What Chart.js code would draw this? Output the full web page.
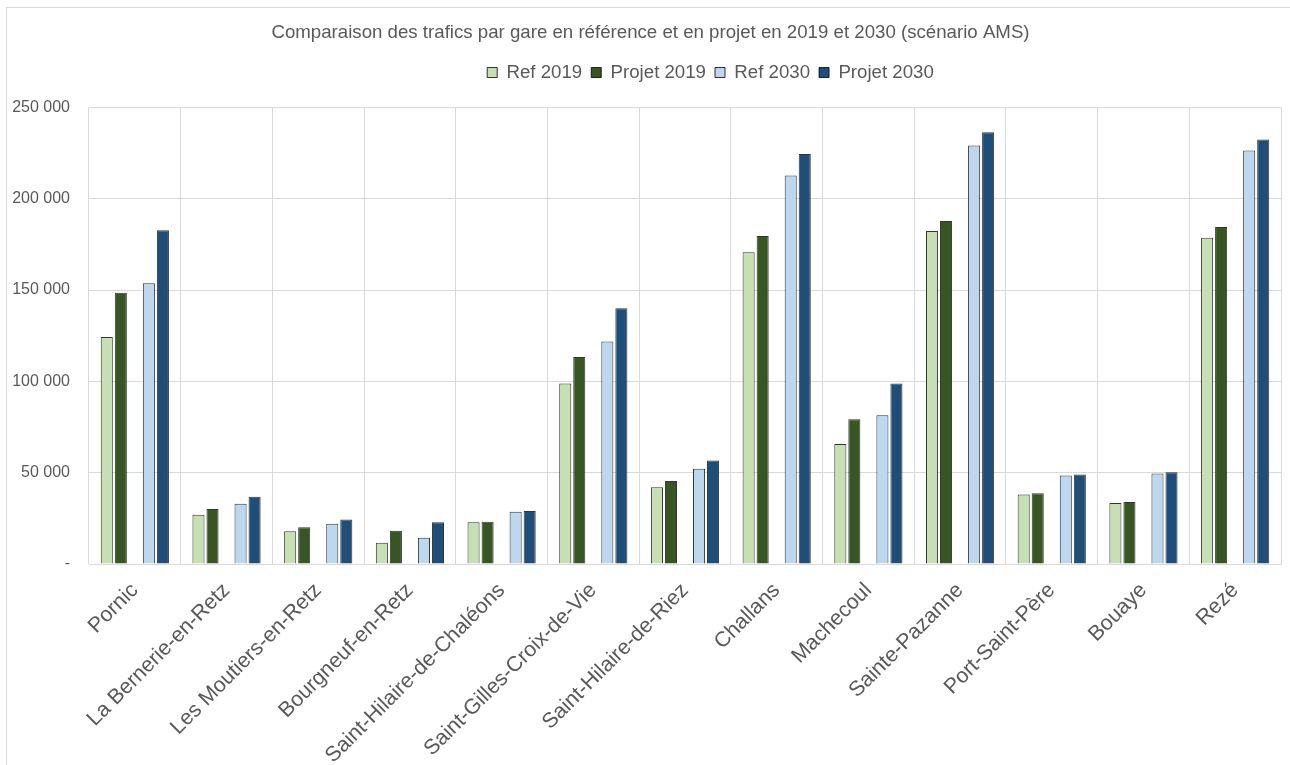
<!DOCTYPE html>
<html>
<head>
<meta charset="utf-8">
<script src="https://cdn.jsdelivr.net/npm/chart.js@4"></script>
<style>
  body { margin: 0; overflow: hidden; background: #fff; }
  #wrap { position: relative; width: 1300px; height: 765px; }
  #frame { position: absolute; left: 6px; top: 7px; width: 1300px; height: 800px; border: 1px solid #d9d9d9; pointer-events: none; }
</style>
</head>
<body>
<div id="wrap">
  <canvas id="chart1" width="1300" height="765"></canvas>
  <div id="frame"></div>
</div>
<script>
var gares = ["Pornic", "La Bernerie-en-Retz", "Les Moutiers-en-Retz", "Bourgneuf-en-Retz",
  "Saint-Hilaire-de-Chaléons", "Saint-Gilles-Croix-de-Vie", "Saint-Hilaire-de-Riez", "Challans",
  "Machecoul", "Sainte-Pazanne", "Port-Saint-Père", "Bouaye", "Rezé"];

var ref2019    = [124300, 27000, 18000, 11700, 22800,  98800, 42000, 170700, 65700, 182300, 38100, 33400, 178700];
var projet2019 = [148600, 30100, 20100, 18200, 23100, 113400, 45400, 179600, 79300, 187800, 38700, 33900, 184500];
var ref2030    = [153700, 33000, 22000, 14400, 28600, 121800, 52100, 212800, 81500, 229200, 48500, 49600, 226500];
var projet2030 = [182700, 36800, 24400, 22800, 29000, 140000, 56700, 224500, 98800, 236500, 49000, 50300, 232500];

var grey = '#595959';
var gridColor = '#d9d9d9';
var police = 'Liberation Sans, Arial, sans-serif';

function fmt(v) {
  if (v === 0) return '-';
  return String(v).replace(/\B(?=(\d{3})+(?!\d))/g, ' ');
}

function serie(label, data, color) {
  return {
    label: label,
    data: data,
    backgroundColor: color,
    borderColor: 'rgba(0,0,0,0.8)',
    borderWidth: 1,
    categoryPercentage: 0.765,
    barPercentage: 0.86
  };
}

function shift(box, chart, dx) {
  var draw = box.draw;
  box.draw = function () {
    var ctx = chart.ctx;
    ctx.save();
    ctx.translate(dx, 0);
    draw.bind(box)();
    ctx.restore();
  };
}

// titre et légende décalés vers la droite comme dans l'original, plus d'espace sous la légende
var headerTweak = {
  id: 'headerTweak',
  beforeInit: function (chart) {
    var lg = chart.legend;
    var fit = lg.fit;
    lg.fit = function () {
      fit.bind(lg)();
      this.height += 15.6;
    };
    shift(lg, chart, 70);
    shift(chart.titleBlock, chart, 10);
  }
};

new Chart("chart1", {
  type: "bar",
  data: {
    labels: gares,
    datasets: [
      serie('Ref 2019', ref2019, '#c6e0b4'),
      serie('Projet 2019', projet2019, '#375623'),
      // slot vide entre 2019 et 2030
      serie('', gares.map(function () { return null; }), 'rgba(0,0,0,0)'),
      serie('Ref 2030', ref2030, '#bdd7ee'),
      serie('Projet 2030', projet2030, '#1f4e79')
    ]
  },
  plugins: [headerTweak],
  options: {
    responsive: false,
    animation: false,
    layout: { padding: { left: 0, right: 19, top: 0, bottom: 0 } },
    plugins: {
      title: {
        display: true,
        text: 'Comparaison des trafics par gare en référence et en projet en 2019 et 2030 (scénario AMS)',
        color: grey,
        font: { family: police, size: 18.67, weight: 'normal' },
        padding: { top: 21.5, bottom: 10.3 }
      },
      legend: {
        position: 'top',
        labels: {
          filter: function (item) { return item.text !== ''; },
          color: grey,
          font: { family: police, size: 18.67 },
          boxWidth: 10,
          boxHeight: 10,
          padding: 9
        }
      },
      tooltip: { enabled: false }
    },
    scales: {
      x: {
        grid: { color: gridColor, drawTicks: false, offset: true },
        border: { color: gridColor },
        ticks: {
          color: grey,
          minRotation: 45,
          maxRotation: 45,
          padding: 14,
          font: { family: police, size: 21.3 }
        },
        afterFit: function (scale) { scale.height = 201; }
      },
      y: {
        min: 0,
        max: 250000,
        grid: { color: gridColor, drawTicks: false },
        border: { display: false },
        ticks: {
          stepSize: 50000,
          color: grey,
          padding: 19,
          font: { family: police, size: 16 },
          callback: function (v) { return fmt(v); }
        },
        afterFit: function (scale) { scale.width = 89; }
      }
    }
  }
});
</script>
</body>
</html>
